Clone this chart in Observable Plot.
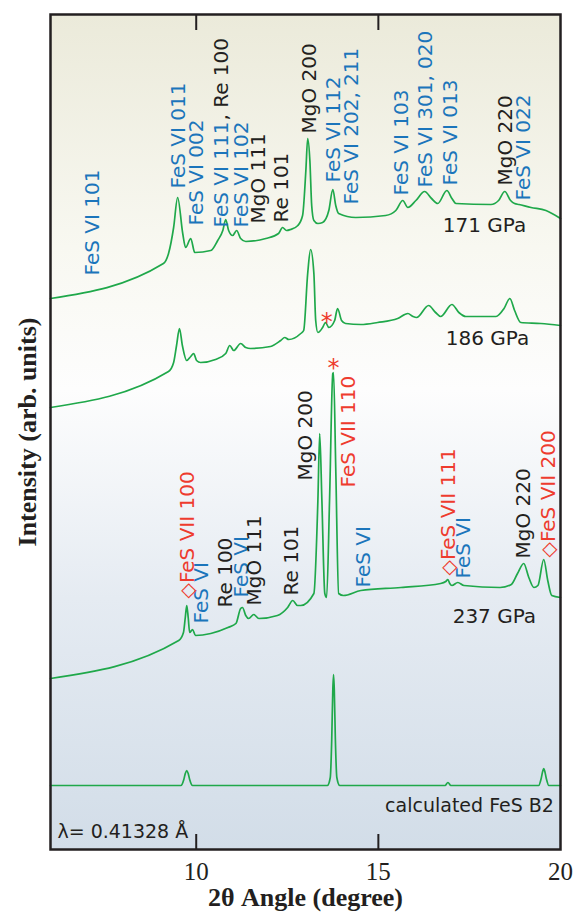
<!DOCTYPE html>
<html><head><meta charset="utf-8">
<script src="https://cdn.jsdelivr.net/npm/d3@7"></script>
<script src="https://cdn.jsdelivr.net/npm/@observablehq/plot@0.6"></script>
<style>body{margin:0;background:#fff}</style>
</head><body><div id="chart"></div>
<script>
// [2θ (degree), intensity (arb. units, stacked offset included)]
const trace171 = [[6.00,551],[9.10,586],[9.24,596],[9.38,622],[9.49,652],[9.63,616],[9.71,602],[9.85,611],[9.96,597],[10.40,599],[10.59,609],[10.73,619],[10.81,630],[10.89,619],[11.00,614],[11.11,619],[11.22,611],[11.36,608],[11.91,611],[12.26,616],[12.37,622],[12.48,619],[12.59,620],[12.79,624],[12.92,634],[13.01,679],[13.06,711],[13.12,689],[13.17,644],[13.23,629],[13.34,626],[13.47,627],[13.64,639],[13.75,660],[13.83,644],[13.91,636],[14.38,632],[15.20,634],[15.48,639],[15.67,649],[15.81,642],[16.03,649],[16.27,658],[16.46,651],[16.63,646],[16.88,659],[17.02,651],[17.13,646],[18.09,645],[18.30,649],[18.47,658],[18.63,649],[18.74,646],[18.86,645],[19.19,642],[19.60,639],[20.00,631]];
const trace186 = [[6.00,442],[9.24,478],[9.38,487],[9.46,504],[9.54,521],[9.62,504],[9.74,489],[9.85,493],[9.93,496],[10.01,489],[10.12,487],[10.53,490],[10.81,496],[10.92,504],[11.03,499],[11.22,506],[11.36,502],[11.49,501],[12.04,503],[12.32,509],[12.43,512],[12.54,510],[12.87,516],[12.95,519],[13.06,576],[13.14,600],[13.23,576],[13.28,529],[13.34,517],[13.47,522],[13.55,527],[13.64,522],[13.80,529],[13.88,541],[13.99,529],[14.10,526],[14.52,525],[14.98,527],[15.53,531],[15.81,536],[15.95,533],[16.05,532],[16.38,544],[16.57,537],[16.71,533],[17.02,545],[17.21,537],[17.40,533],[18.23,533],[18.45,541],[18.61,551],[18.74,539],[18.91,527],[19.46,526],[20.00,524]];
const trace237 = [[6.00,171],[9.52,209],[9.65,217],[9.70,232],[9.74,244],[9.78,232],[9.82,217],[9.90,220],[9.98,214],[10.40,216],[10.87,222],[11.09,226],[11.22,241],[11.27,242],[11.36,234],[11.44,231],[11.58,235],[11.72,231],[12.23,234],[12.51,242],[12.65,249],[12.78,244],[12.87,244],[13.23,256],[13.34,349],[13.39,416],[13.45,349],[13.53,256],[13.58,252],[13.66,349],[13.75,476],[13.77,477],[13.83,382],[13.91,256],[14.04,254],[14.52,259],[15.62,262],[16.71,266],[16.85,268],[16.91,270],[16.96,266],[17.02,264],[17.18,267],[17.35,264],[18.34,262],[18.65,265],[18.82,276],[18.99,286],[19.13,272],[19.27,262],[19.38,264],[19.54,290],[19.65,269],[19.76,254],[20.00,252]];
const traceCalc = [[6.00,64],[9.58,64],[9.66,70],[9.70,76],[9.74,79],[9.78,76],[9.82,70],[9.90,64],[13.60,64],[13.68,72],[13.72,110],[13.75,160],[13.77,175],[13.79,160],[13.82,110],[13.86,72],[13.94,64],[16.83,64],[16.91,67],[16.99,64],[19.40,64],[19.47,71],[19.51,78],[19.54,81],[19.57,78],[19.61,71],[19.68,64],[20.00,64]];

const xTicks = [10, 15, 20];
const innerTicks = [10, 15];

// peak labels: [text, 2θ, intensity at start of text]
const labelsBlue = [["FeS VI 101",7.15,574],["FeS VI 011",9.52,661],["FeS VI 002",10.02,624],["FeS VI 111",10.70,622],["FeS VI 102",11.25,622],["FeS VI 112",13.77,667],["FeS VI 202, 211",14.27,645],["FeS VI 103",15.64,654],["FeS VI 301, 020",16.30,662],["FeS VI 013",16.99,664],["FeS VI 022",18.99,649],["FeS VI",10.15,226],["FeS VI",11.25,252],["FeS VI",14.60,262],["FeS VI",17.35,271]];
const labelsBlack = [[", Re 100",10.70,729],["MgO 111",11.71,626],["Re 101",12.35,627],["MgO 200",13.12,716],["MgO 220",18.50,664],["Re 100",10.81,242],["MgO 111",11.60,244],["Re 101",12.62,254],["MgO 200",13.01,369],["MgO 220",18.99,291]];
const labelsRed = [["FeS VII 110",14.19,362],["◇FeS VII 100",9.76,251],["◇FeS VII 111",16.93,274],["◇FeS VII 200",19.68,292]];
const stars = [[13.58,527],[13.77,481]];
const pressureLabels = [["171 GPa",16.77,624],["186 GPa",16.85,511],["237 GPa",17.04,233]];
const calcLabel = [["calculated FeS B2",19.82,44]];
const lambdaLabel = [["λ= 0.41328 Å",6.19,18]];

const GREEN = "#1fa84a", BLUE = "#1b75bb", RED = "#ee3b2e", BLACK = "#231f20";
const SANS = "DejaVu Sans", SERIF = "Liberation Serif";

const rows = [];
for (const [name, tr] of [["171",trace171],["186",trace186],["237",trace237],["calc",traceCalc]])
  for (const [t, i] of tr) rows.push({name, t, i});

const rotLabels = (data, fill) => Plot.text(data, {x: d => d[1], y: d => d[2], text: d => d[0], rotate: -90, textAnchor: "start", fill, fontSize: 20, fontFamily: SANS});

const chart = Plot.plot({
  width: 575, height: 917,
  marginLeft: 50, marginRight: 15, marginTop: 14, marginBottom: 68,
  x: {domain: [6, 20], axis: null},
  y: {domain: [0, 835], axis: null},
  style: {fontFamily: SANS, background: "white"},
  marks: [
    Plot.line(rows, {x: "t", y: "i", z: "name", stroke: GREEN, strokeWidth: 1.7, curve: "monotone-x"}),
    rotLabels(labelsBlue, BLUE),
    rotLabels(labelsBlack, BLACK),
    rotLabels(labelsRed, RED),
    Plot.text(stars, {x: d => d[0], y: d => d[1], text: d => "*", fill: RED, fontSize: 24, fontFamily: SANS}),
    Plot.text(pressureLabels, {x: d => d[1], y: d => d[2], text: d => d[0], textAnchor: "start", fill: BLACK, fontSize: 20, fontFamily: SANS}),
    Plot.text(calcLabel, {x: d => d[1], y: d => d[2], text: d => d[0], textAnchor: "end", fill: BLACK, fontSize: 19, fontFamily: SANS}),
    Plot.text(lambdaLabel, {x: d => d[1], y: d => d[2], text: d => d[0], textAnchor: "start", fill: BLACK, fontSize: 19, fontFamily: SANS}),
    Plot.ruleX(innerTicks, {y1: 835, y2: 819, stroke: BLACK, strokeWidth: 2}),
    Plot.ruleX(innerTicks, {y1: 0, y2: 15, stroke: BLACK, strokeWidth: 2}),
    Plot.text(xTicks, {x: d => d, y: 0, dy: 22, text: d => String(d), fill: BLACK, fontSize: 25, fontFamily: SERIF}),
    Plot.text(["2θ Angle (degree)"], {frameAnchor: "bottom", textAnchor: "middle", dy: 56, fill: BLACK, fontSize: 26, fontWeight: "bold", fontFamily: SERIF}),
    Plot.text(["Intensity (arb. units)"], {frameAnchor: "left", textAnchor: "middle", dx: -23, rotate: -90, fill: BLACK, fontSize: 26, fontWeight: "bold", fontFamily: SERIF}),
    Plot.frame({stroke: BLACK, strokeWidth: 2.5})
  ]
});

// background gradient inside the frame
const ns = "http://www.w3.org/2000/svg";
const defs = document.createElementNS(ns, "defs");
defs.innerHTML = `<linearGradient id="bggrad" x1="0" y1="0" x2="0" y2="1">
  <stop offset="0" stop-color="#ebeada"/>
  <stop offset="0.28" stop-color="#f8f8f1"/>
  <stop offset="0.45" stop-color="#fdfdfd"/>
  <stop offset="0.7" stop-color="#e5ebf2"/>
  <stop offset="1" stop-color="#d2dde8"/>
</linearGradient>`;
const sx = chart.scale("x"), sy = chart.scale("y");
const bg = document.createElementNS(ns, "rect");
const x0 = sx.apply(6), x1 = sx.apply(20), y0 = sy.apply(835), y1 = sy.apply(0);
bg.setAttribute("x", x0); bg.setAttribute("y", y0);
bg.setAttribute("width", x1 - x0); bg.setAttribute("height", y1 - y0);
bg.setAttribute("fill", "url(#bggrad)");
chart.insertBefore(bg, chart.firstChild);
chart.insertBefore(defs, chart.firstChild);
document.getElementById("chart").appendChild(chart);
</script></body></html>
